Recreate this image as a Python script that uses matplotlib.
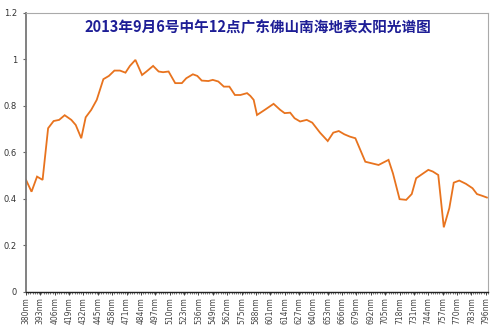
import matplotlib
matplotlib.use("Agg")
import matplotlib.pyplot as plt
from matplotlib.ticker import MultipleLocator, FixedLocator

title = "2013年9月6号中午12点广东佛山南海地表太阳光谱图"

wavelength = [380, 385, 390, 395, 400, 405, 410, 415, 421, 425, 430, 434, 439, 444,
              450, 455, 460, 465, 470, 474, 479, 485, 489, 495, 500, 504, 509, 515,
              521, 525, 531, 535, 539, 545, 549, 554, 559, 564, 569, 574, 580, 583,
              586, 589, 596, 604, 610, 614, 619, 623, 628, 634, 639, 646, 653, 658,
              663, 668, 673, 678, 687, 693, 699, 708, 712, 718, 724, 729, 733, 744,
              748, 753, 758, 763, 767, 772, 778, 784, 788, 793, 797]
irradiance = [0.482, 0.431, 0.496, 0.482, 0.704, 0.735, 0.740, 0.760, 0.740, 0.718,
              0.661, 0.751, 0.783, 0.826, 0.915, 0.929, 0.952, 0.952, 0.943, 0.972,
              0.998, 0.933, 0.948, 0.972, 0.948, 0.945, 0.948, 0.898, 0.898, 0.919,
              0.936, 0.929, 0.909, 0.907, 0.912, 0.905, 0.883, 0.883, 0.847, 0.847,
              0.855, 0.843, 0.826, 0.761, 0.783, 0.809, 0.783, 0.769, 0.771, 0.747,
              0.733, 0.740, 0.728, 0.685, 0.649, 0.685, 0.692, 0.678, 0.668, 0.661,
              0.560, 0.553, 0.546, 0.568, 0.510, 0.399, 0.396, 0.421, 0.489, 0.525,
              0.518, 0.503, 0.278, 0.360, 0.470, 0.479, 0.465, 0.446, 0.421, 0.413,
              0.406]
xtick_values = list(range(380, 797, 13))
xtick_labels = [f"{v}nm" for v in xtick_values]
ytick_values = [0, 0.2, 0.4, 0.6, 0.8, 1.0, 1.2]
ytick_labels = ["0", "0.2", "0.4", "0.6", "0.8", "1", "1.2"]

plt.rcParams['font.family'] = ['Noto Sans CJK SC', 'DejaVu Sans']

fig = plt.figure(figsize=(5.0, 3.31), dpi=100)
ax = fig.add_axes([0.052, 0.118, 0.924, 0.843])

ax.plot(wavelength, irradiance, color="#E8731E", lw=1.3, solid_joinstyle="miter")

ax.set_xlim(380, 798)
ax.set_ylim(0, 1.2)

ax.xaxis.set_major_locator(FixedLocator(xtick_values))
ax.set_xticklabels(xtick_labels, rotation=90, fontsize=5.5, color="#444444",
                   family="DejaVu Sans")
ax.xaxis.set_minor_locator(MultipleLocator(2))
ax.tick_params(axis="x", which="major", length=2, width=0.6, color="#222222", pad=2)
ax.tick_params(axis="x", which="minor", length=1.5, width=0.5, color="#444444")

ax.set_yticks(ytick_values)
ax.set_yticklabels(ytick_labels, fontsize=6, color="#333333", family="DejaVu Sans")
ax.tick_params(axis="y", length=2.5, width=0.8, color="#666666", pad=4)

ax.spines["left"].set_color("#777777")
ax.spines["left"].set_linewidth(1.3)
ax.spines["bottom"].set_color("#222222")
ax.spines["bottom"].set_linewidth(1.0)
ax.spines["top"].set_color("#aaaaaa")
ax.spines["top"].set_linewidth(0.8)
ax.spines["right"].set_color("#aaaaaa")
ax.spines["right"].set_linewidth(0.8)

ax.text(0.502, 0.95, title, transform=ax.transAxes, ha="center", va="center",
        fontsize=10.5, color="#1E1E96", fontweight="bold")

fig.savefig("out.png", dpi=100)
